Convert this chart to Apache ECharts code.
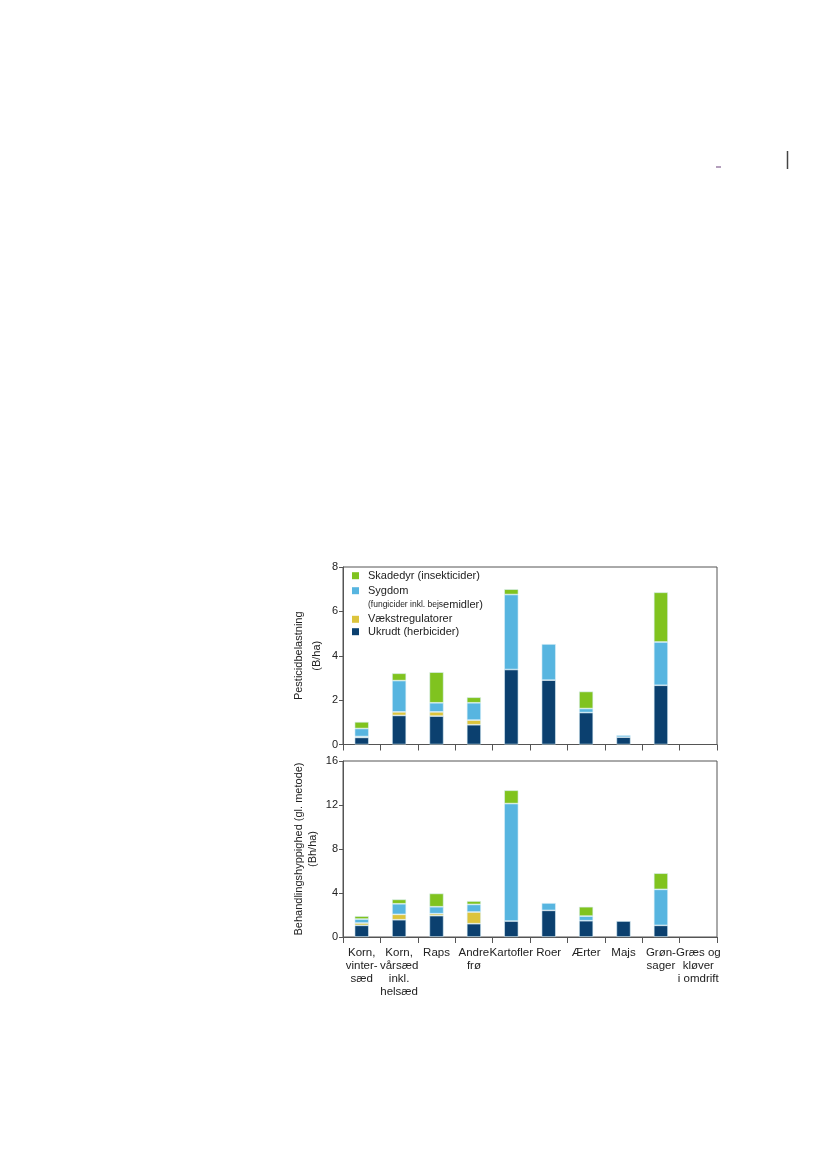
<!DOCTYPE html>
<html><head><meta charset="utf-8">
<script src="https://cdn.jsdelivr.net/npm/echarts@6/dist/echarts.min.js"></script>
<style>html,body{margin:0;padding:0;background:#fff}#c{width:826px;height:1169px}</style>
</head><body><div id="c"></div>
<script>
var categories = ["Korn,\nvinter-\nsæd", "Korn,\nvårsæd\ninkl.\nhelsæd", "Raps", "Andre\nfrø", "Kartofler", "Roer", "Ærter", "Majs", "Grøn-\nsager", "Græs og\nkløver\ni omdrift"];
var seriesNames = ["Ukrudt (herbicider)", "Vækstregulatorer", "Sygdom", "Skadedyr (insekticider)"];
var seriesColors = ["#0b406f", "#dcc43c", "#57b5e0", "#80c31f"];
// Pesticidbelastning (B/ha) – segment values
var ukrudtB   = [0.32, 1.31, 1.28, 0.89, 3.38, 2.90, 1.44, 0.33, 2.67, 0];
var vaekstB   = [0.04, 0.16, 0.19, 0.21, 0, 0, 0, 0, 0, 0];
var sygdomB   = [0.36, 1.41, 0.41, 0.78, 3.38, 1.63, 0.18, 0.09, 1.95, 0];
var skadedyrB = [0.30, 0.33, 1.38, 0.25, 0.24, 0, 0.77, 0, 2.24, 0];
// Behandlingshyppighed (Bh/ha) – segment values
var ukrudtH   = [1.06, 1.57, 1.94, 1.21, 1.45, 2.42, 1.48, 1.45, 1.06, 0];
var vaekstH   = [0.21, 0.49, 0.18, 1.06, 0, 0, 0, 0, 0, 0];
var sygdomH   = [0.36, 0.96, 0.63, 0.69, 10.68, 0.67, 0.42, 0, 3.27, 0];
var skadedyrH = [0.27, 0.40, 1.21, 0.31, 1.21, 0, 0.85, 0, 1.47, 0];
var ticksTop = [0, 2, 4, 6, 8];
var ticksBottom = [0, 4, 8, 12, 16];

var FONT = "Liberation Sans, Arial, sans-serif";
var chart = echarts.init(document.getElementById('c'), null, {renderer: 'canvas'});
function clean(a){ return a.map(function(v){ return v === 0 ? '-' : v; }); }
var topData = [ukrudtB, vaekstB, sygdomB, skadedyrB];
var botData = [ukrudtH, vaekstH, sygdomH, skadedyrH];
var series = [];
[topData, botData].forEach(function(set, gi){
  set.forEach(function(arr, si){
    series.push({
      type: 'bar', name: seriesNames[si], stack: 's' + gi,
      xAxisIndex: gi, yAxisIndex: gi, barWidth: '38%',
      data: clean(arr),
      itemStyle: {color: seriesColors[si], borderColor: 'rgba(220,240,248,0.85)', borderWidth: 0.7},
      silent: true
    });
  });
});
function yAxis(gi, ticks, name, lh, gap){
  return {
    type: 'value', gridIndex: gi, min: ticks[0], max: ticks[ticks.length-1],
    interval: ticks[1]-ticks[0],
    name: name, nameLocation: 'middle', nameRotate: 90, nameGap: gap,
    nameTextStyle: {fontFamily: FONT, fontSize: 11, color: '#222', lineHeight: lh, align: 'center'},
    axisLine: {show: true, lineStyle: {color: '#555', width: 1}},
    axisTick: {show: true, length: 4, lineStyle: {color: '#555'}},
    axisLabel: {fontFamily: FONT, fontSize: 11, color: '#222', margin: 5},
    splitLine: {show: false}
  };
}
function xAxis(gi, showLabels){
  return {
    type: 'category', gridIndex: gi, data: categories, boundaryGap: true,
    axisLine: {show: true, lineStyle: {color: '#555', width: 1}},
    axisTick: {show: true, length: 6, lineStyle: {color: '#555'}},
    axisLabel: {show: showLabels, interval: 0, fontFamily: FONT, fontSize: 11.5, color: '#222', lineHeight: 13, margin: 9}
  };
}
var legendY = [631.7, 619.3, 590.7, 575.7];
var graphic = [];
for (var i = 0; i < 4; i++) {
  graphic.push({type: 'rect', shape: {x: 352, y: legendY[i]-3.5, width: 7, height: 7}, style: {fill: seriesColors[i]}, silent: true});
  graphic.push({type: 'text', x: 368, y: legendY[i], style: {text: seriesNames[i], font: '11px ' + FONT, fill: '#222', verticalAlign: 'middle'}, silent: true});
}
graphic.push({type: 'text', x: 368, y: 605, style: {
  text: '{s|(fungicider inkl. bejs}{m|emidler)}', verticalAlign: 'middle',
  rich: {s: {fontSize: 8.5, fontFamily: FONT, fill: '#222'}, m: {fontSize: 11, fontFamily: FONT, fill: '#222'}}
}, silent: true});
graphic.push({type: 'line', shape: {x1: 716, y1: 167, x2: 721, y2: 167}, style: {stroke: '#9b7fa6', lineWidth: 1.5}, silent: true});
graphic.push({type: 'line', shape: {x1: 787.5, y1: 151, x2: 787.5, y2: 169}, style: {stroke: '#444', lineWidth: 1.5}, silent: true});

chart.setOption({
  animation: false,
  backgroundColor: '#fff',
  grid: [
    {left: 343, top: 567, width: 374, height: 177.5, show: true, borderColor: '#555', borderWidth: 1, containLabel: false},
    {left: 343, top: 761, width: 374, height: 176, show: true, borderColor: '#555', borderWidth: 1, containLabel: false}
  ],
  xAxis: [xAxis(0, false), xAxis(1, true)],
  yAxis: [yAxis(0, ticksTop, 'Pesticidbelastning\n(B/ha)', 18, 17), yAxis(1, ticksBottom, 'Behandlingshyppighed (gl. metode)\n(Bh/ha)', 14, 23)],
  series: series,
  graphic: graphic
});
</script></body></html>
